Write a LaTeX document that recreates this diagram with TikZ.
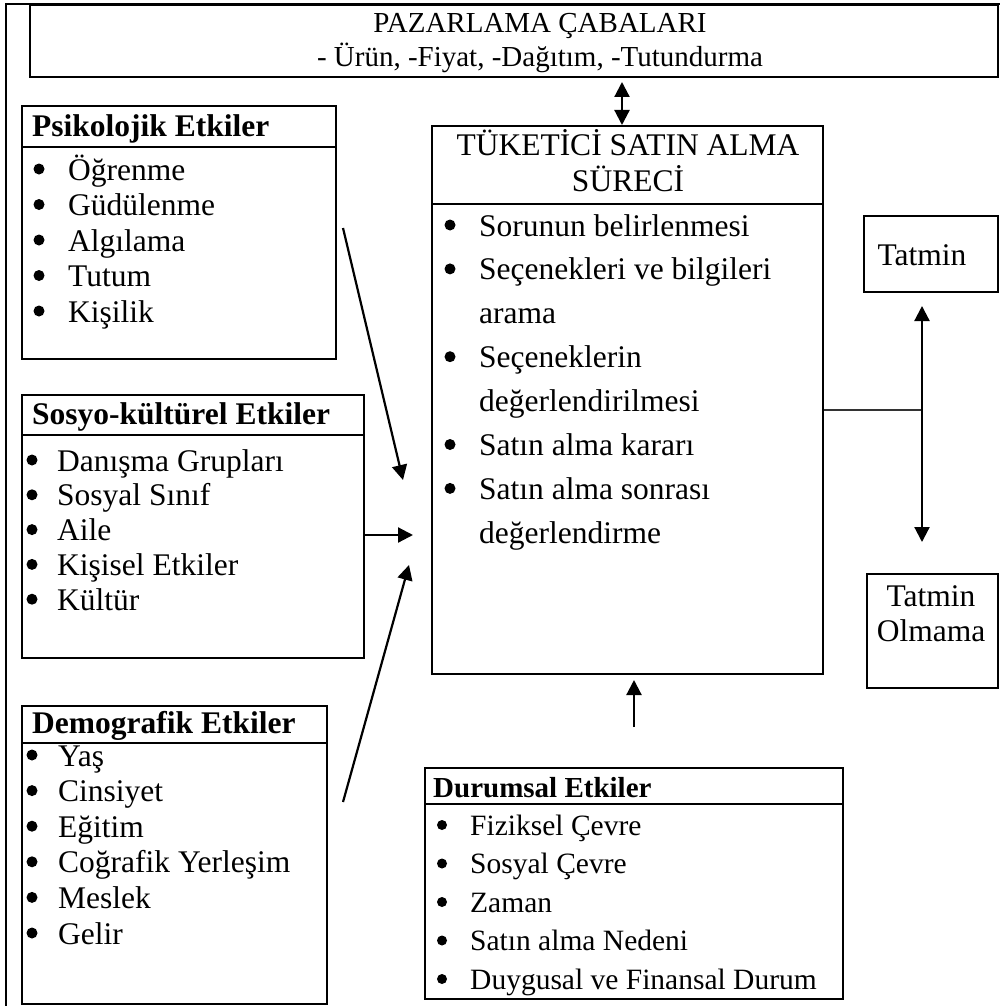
\documentclass[tikz,border=0pt]{standalone}
\usepackage{fontspec}
\setmainfont{Liberation Serif}
\usetikzlibrary{arrows.meta,calc}

\tikzset{
    box/.style={draw, line width=2pt, anchor=north west, inner sep=0pt},
    rule/.style={line width=2pt},
    txt/.style={inner sep=0pt, anchor=base west, font=\fontsize{31.5}{36}\selectfont},
    ctxt/.style={txt, anchor=base},
    head/.style={txt, font=\fontsize{31.5}{36}\selectfont\bfseries},
    dot/.style={circle, fill, inner sep=0pt, minimum size=11pt},
    arr/.style={line width=2.2pt, -{Triangle[length=15pt,width=15pt]}},
    darr/.style={line width=2.2pt, {Triangle[length=15pt,width=15pt]}-{Triangle[length=15pt,width=15pt]}},
}

\begin{document}
\begin{tikzpicture}[x=1pt,y=-1pt]
    \useasboundingbox (0,0) rectangle (1003,1006);

    % outer frame
    \draw[line width=2.5pt] (6,1006) -- (6,4) -- (1000,4);

    % marketing efforts
    \node[box, minimum width=968pt, minimum height=72pt] (paz) at (29,4) {};
    \node[ctxt, font=\fontsize{29}{34}\selectfont] (pazT1) at (540,33) {PAZARLAMA ÇABALARI};
    \node[ctxt, font=\fontsize{29}{34}\selectfont] (pazT2) at (540,67) {- Ürün, -Fiyat, -Dağıtım, -Tutundurma};

    % psychological
    \node[box, minimum width=314pt, minimum height=253pt] (psi) at (21,105) {};
    \draw[rule] ([yshift=-42pt]psi.north west) -- ([yshift=-42pt]psi.north east);
    \node[head] (psiH) at (32,136) {Psikolojik Etkiler};
    \foreach \t [count=\i] in {Öğrenme, Güdülenme, Algılama, Tutum, Kişilik} {
        \node[dot] (psiB\i) at (39, {169+35.5*(\i-1)}) {};
        \node[txt] (psi\i) at (68, {180+35.5*(\i-1)}) {\t};
    }

    % socio-cultural
    \node[box, minimum width=342pt, minimum height=263pt] (soc) at (21,394) {};
    \draw[rule] ([yshift=-41pt]soc.north west) -- ([yshift=-41pt]soc.north east);
    \node[head] (socH) at (32,424) {Sosyo-kültürel Etkiler};
    \foreach \t [count=\i] in {Danışma Grupları, Sosyal Sınıf, Aile, Kişisel Etkiler, Kültür} {
        \node[dot] (socB\i) at (32, {460+34.8*(\i-1)}) {};
        \node[txt] (soc\i) at (57, {471+34.8*(\i-1)}) {\t};
    }

    % demographic
    \node[box, minimum width=305pt, minimum height=298pt] (dem) at (21,705) {};
    \draw[rule] ([yshift=-38pt]dem.north west) -- ([yshift=-38pt]dem.north east);
    \node[head] (demH) at (32,733) {Demografik Etkiler};
    \foreach \t [count=\i] in {Yaş, Cinsiyet, Eğitim, Coğrafik Yerleşim, Meslek, Gelir} {
        \node[dot] (demB\i) at (32, {755+35.6*(\i-1)}) {};
        \node[txt] (dem\i) at (58, {766+35.6*(\i-1)}) {\t};
    }

    % buying process
    \node[box, minimum width=391pt, minimum height=548pt] (tuk) at (431,125) {};
    \draw[rule] ([yshift=-79pt]tuk.north west) -- ([yshift=-79pt]tuk.north east);
    \node[ctxt] (tukH1) at (628,155) {TÜKETİCİ SATIN ALMA};
    \node[ctxt] (tukH2) at (628,191) {SÜRECİ};
    \foreach \t [count=\i] in {Sorunun belirlenmesi, Seçenekleri ve bilgileri, arama, Seçeneklerin, değerlendirilmesi, Satın alma kararı, Satın alma sonrası, değerlendirme} {
        \node[txt] (tuk\i) at (479, {236+43.9*(\i-1)}) {\t};
    }
    \foreach \i in {1,2,4,6,7} {
        \node[dot] (tukB\i) at (450, {225+43.9*(\i-1)}) {};
    }

    % situational
    \node[box, minimum width=418pt, minimum height=231pt] (dur) at (424,767) {};
    \draw[rule] ([yshift=-37pt]dur.north west) -- ([yshift=-37pt]dur.north east);
    \node[head, font=\fontsize{29}{34}\selectfont\bfseries] (durH) at (433,797) {Durumsal Etkiler};
    \foreach \t [count=\i] in {Fiziksel Çevre, Sosyal Çevre, Zaman, Satın alma Nedeni, Duygusal ve Finansal Durum} {
        \node[dot, minimum size=10pt] (durB\i) at (442, {825+38.5*(\i-1)}) {};
        \node[txt, font=\fontsize{29.5}{34}\selectfont] (dur\i) at (470, {835+38.5*(\i-1)}) {\t};
    }

    % outcomes
    \node[box, minimum width=134pt, minimum height=76pt] (tat) at (863,215) {};
    \node[ctxt] (tatT) at (922,265) {Tatmin};
    \node[box, minimum width=131pt, minimum height=114pt] (olm) at (866,573) {};
    \node[ctxt] (olmT1) at (931,606) {Tatmin};
    \node[ctxt] (olmT2) at (931,641) {Olmama};

    % connectors
    \coordinate (pazArr) at (622,82);
    \draw[darr] (pazArr) -- (pazArr |- tuk.north);

    \coordinate (psiOut) at (343,228);
    \coordinate (psiIn) at (403,480);
    \draw[arr] (psiOut) -- (psiIn);

    \coordinate (socIn) at (413,535);
    \draw[arr] (socIn -| soc.east) -- (socIn);

    \coordinate (demOut) at (343,802);
    \coordinate (demIn) at (409,565);
    \draw[arr] (demOut) -- (demIn);

    \draw[arr] ([yshift=40pt]dur.north) -- ([yshift=-5pt]dur.north |- tuk.south);

    \coordinate (fork) at (922,410);
    \draw[line width=1.2pt, black!80] (fork -| tuk.east) -- (fork);
    \draw[darr] ([yshift=-13pt]fork |- tat.south) -- ([yshift=31pt]fork |- olm.north);
\end{tikzpicture}
\end{document}
